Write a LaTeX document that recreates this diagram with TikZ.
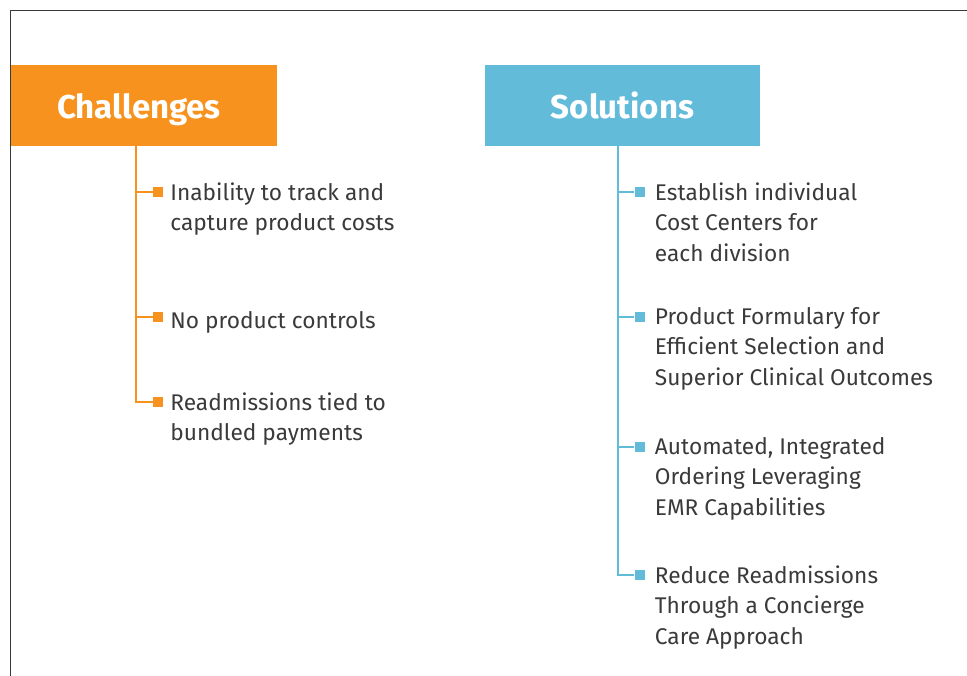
\documentclass[tikz,border=0pt]{standalone}
\usepackage{fontspec}
\setmainfont{Fira Sans}
\usetikzlibrary{positioning}

\definecolor{chalorange}{HTML}{F7921E}
\definecolor{solblue}{HTML}{63BBDA}
\definecolor{textgray}{HTML}{3A3A3A}

\tikzset{
  header/.style={fill=#1, text=white, inner sep=0pt, text depth=0pt,
    font=\fontsize{33}{40}\selectfont\bfseries},
  bullet/.style={fill=#1, minimum size=10pt, inner sep=0pt},
  item/.style={anchor=north west, align=left, inner sep=0pt, text=textgray,
    font=\fontsize{22.7}{30.5}\selectfont, execute at begin node=\strut},
  stem/.style={draw=#1, line width=2.3pt},
}

\begin{document}
\begin{tikzpicture}[x=1pt, y=-1pt]
\useasboundingbox (0,0) rectangle (967,676);

% Frame
\draw[textgray, line width=1.5pt] (10.5,676) -- (10.5,10.5) -- (967,10.5);

% Challenges column
\node[header=chalorange, minimum width=266pt, minimum height=81pt] (chal) at (144,105.5) {Challenges\hspace*{10pt}};
\node[bullet=chalorange] (c1) at (158,192) {};
\node[bullet=chalorange] (c2) at (158,317) {};
\node[bullet=chalorange] (c3) at (158,402) {};
\node[item] (c1t) at ([xshift=7pt, yshift=9.85pt]c1.east) {Inability to track and\\capture product costs};
\node[item] (c2t) at ([xshift=7pt, yshift=9.85pt]c2.east) {No product controls};
\node[item] (c3t) at ([xshift=7pt, yshift=9.85pt]c3.east) {Readmissions tied to\\bundled payments};

\coordinate (ctop) at (136,146);
\draw[stem=chalorange] (ctop) |- (c3.west);
\foreach \i in {1,2}
  \draw[stem=chalorange] (ctop |- c\i) -- (c\i.west);

% Solutions column
\node[header=solblue, minimum width=275pt, minimum height=81pt] (sol) at (622.5,105.5) {Solutions};
\node[bullet=solblue] (s1) at (639.5,192) {};
\node[bullet=solblue] (s2) at (639.5,317) {};
\node[bullet=solblue] (s3) at (639.5,447) {};
\node[bullet=solblue] (s4) at (639.5,575) {};
\node[item] (s1t) at ([xshift=10pt, yshift=9.85pt]s1.east) {Establish individual\\Cost Centers for\\each division};
\node[item] (s2t) at ([xshift=10pt, yshift=9.85pt]s2.east) {Product Formulary for\\Efficient Selection and\\Superior Clinical Outcomes};
\node[item] (s3t) at ([xshift=10pt, yshift=9.85pt]s3.east) {Automated, Integrated\\Ordering Leveraging\\EMR Capabilities};
\node[item] (s4t) at ([xshift=10pt, yshift=9.85pt]s4.east) {Reduce Readmissions\\Through a Concierge\\Care Approach};

\coordinate (stop) at (618,146);
\draw[stem=solblue] (stop) |- (s4.west);
\foreach \i in {1,2,3}
  \draw[stem=solblue] (stop |- s\i) -- (s\i.west);

\end{tikzpicture}
\end{document}
